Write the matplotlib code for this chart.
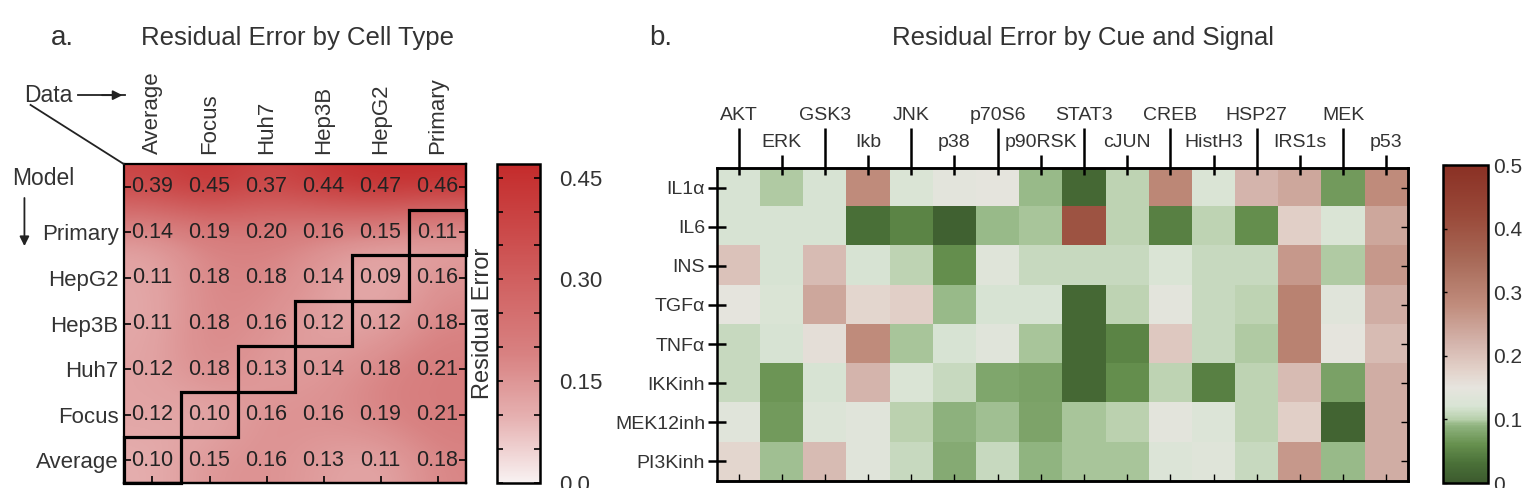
import numpy as np
import matplotlib
matplotlib.use('Agg')
import matplotlib.pyplot as plt
from matplotlib.colors import LinearSegmentedColormap
from matplotlib.patches import Rectangle

plt.rcParams['font.family'] = ['Liberation Sans', 'DejaVu Sans']

# panel a: residual error, model (rows) vs data (columns)
data_cols = ['Average', 'Focus', 'Huh7', 'Hep3B', 'HepG2', 'Primary']
model_rows = ['', 'Primary', 'HepG2', 'Hep3B', 'Huh7', 'Focus', 'Average']
err_cell = [
    [0.39, 0.45, 0.37, 0.44, 0.47, 0.46],
    [0.14, 0.19, 0.20, 0.16, 0.15, 0.11],
    [0.11, 0.18, 0.18, 0.14, 0.09, 0.16],
    [0.11, 0.18, 0.16, 0.12, 0.12, 0.18],
    [0.12, 0.18, 0.13, 0.14, 0.18, 0.21],
    [0.12, 0.10, 0.16, 0.16, 0.19, 0.21],
    [0.10, 0.15, 0.16, 0.13, 0.11, 0.18],
]

# panel b: residual error by cue (rows) and signal (columns)
signals = ['AKT', 'ERK', 'GSK3', 'Ikb', 'JNK', 'p38', 'p70S6', 'p90RSK',
           'STAT3', 'cJUN', 'CREB', 'HistH3', 'HSP27', 'IRS1s', 'MEK', 'p53']
cues = ['IL1α', 'IL6', 'INS', 'TGFα', 'TNFα', 'IKKinh', 'MEK12inh', 'PI3Kinh']
err_cue = [
    [0.12, 0.098, 0.12, 0.28, 0.125, 0.145, 0.15, 0.093, 0.02, 0.105, 0.29, 0.125, 0.22, 0.24, 0.07, 0.28],
    [0.12, 0.12, 0.12, 0.03, 0.05, 0.01, 0.092, 0.096, 0.40, 0.105, 0.045, 0.105, 0.06, 0.18, 0.125, 0.24],
    [0.20, 0.12, 0.21, 0.12, 0.105, 0.06, 0.135, 0.11, 0.11, 0.11, 0.125, 0.11, 0.11, 0.26, 0.098, 0.26],
    [0.15, 0.125, 0.24, 0.17, 0.18, 0.093, 0.12, 0.12, 0.02, 0.105, 0.145, 0.11, 0.105, 0.30, 0.14, 0.23],
    [0.11, 0.12, 0.16, 0.28, 0.096, 0.12, 0.14, 0.096, 0.02, 0.05, 0.19, 0.11, 0.098, 0.30, 0.15, 0.21],
    [0.11, 0.065, 0.12, 0.22, 0.125, 0.11, 0.08, 0.075, 0.02, 0.06, 0.105, 0.045, 0.105, 0.21, 0.075, 0.23],
    [0.14, 0.07, 0.13, 0.14, 0.102, 0.088, 0.095, 0.078, 0.097, 0.103, 0.145, 0.13, 0.104, 0.18, 0.015, 0.23],
    [0.17, 0.095, 0.21, 0.14, 0.11, 0.083, 0.11, 0.09, 0.097, 0.097, 0.13, 0.135, 0.11, 0.26, 0.092, 0.23],
]

reds = LinearSegmentedColormap.from_list(
    'reds', [(0, '#f8f2f2'), (0.2, '#e6b2b2'), (0.4, '#d88282'), (1, '#c42b2b')])
gr_nodes = [(0.00, '#3c5a2e'), (0.03, '#4a7038'), (0.06, '#66904e'), (0.09, '#90b480'),
            (0.10, '#b8d0ac'), (0.12, '#d8e4d4'), (0.15, '#e6e4de'), (0.18, '#e2d0c8'),
            (0.22, '#d4b4ac'), (0.28, '#c08c7c'), (0.35, '#a86a58'), (0.42, '#9a4a3a'),
            (0.50, '#8a3024')]
greenred = LinearSegmentedColormap.from_list(
    'greenred', [(v / 0.5, c) for v, c in gr_nodes])

fig = plt.figure(figsize=(15.27, 4.88), dpi=100)

# ---------------- panel a ----------------
ax1 = fig.add_axes([0.0812, 0.0102, 0.224, 0.6537])
im1 = ax1.imshow(np.array(err_cell), cmap=reds, vmin=0, vmax=0.47,
                 aspect='auto', interpolation='bicubic')
for i in range(len(model_rows)):
    for j in range(len(data_cols)):
        ax1.text(j, i, '%.2f' % err_cell[i][j], ha='center', va='center',
                 fontsize=15.5, color='#222222')
for i, name in enumerate(model_rows):
    if name in data_cols:
        j = data_cols.index(name)
        ax1.add_patch(Rectangle((j - 0.5, i - 0.5), 1, 1, fill=False,
                                lw=2.3, ec='black', zorder=5, clip_on=False))
ax1.set_xticks(range(len(data_cols)))
ax1.set_xticklabels(data_cols, fontsize=16, color='#333333')
ax1.xaxis.tick_top()
ax1.tick_params(axis='x', length=0, labelrotation=90, pad=7)
ax1.set_yticks(range(len(model_rows)))
ax1.set_yticklabels(model_rows, fontsize=16, color='#333333')
ax1.tick_params(axis='y', direction='in', length=5, width=1.2, pad=4)
sb1 = ax1.secondary_xaxis('bottom')
sb1.set_xticks(range(len(data_cols)))
sb1.set_xticklabels([])
sb1.tick_params(direction='in', length=5, width=1.2)
sr1 = ax1.secondary_yaxis('right')
sr1.set_yticks(range(len(model_rows)))
sr1.set_yticklabels([])
sr1.tick_params(direction='in', length=5, width=1.2)
for s in list(ax1.spines.values()) + [sb1.spines['bottom'], sr1.spines['right']]:
    s.set_linewidth(1.6)

cax1 = fig.add_axes([0.3255, 0.0102, 0.0282, 0.6537])
cb1 = fig.colorbar(im1, cax=cax1)
cb1.outline.set_linewidth(1.8)
tk = np.round(np.arange(0, 0.46, 0.05), 2)
cb1.set_ticks(tk)
cb1.set_ticklabels(['0.0' if t == 0 else ('%.2f' % t if abs(t / 0.15 - round(t / 0.15)) < 1e-6 else '') for t in tk])
cax1.tick_params(direction='in', left=True, right=True, length=4, width=1.2,
                 labelsize=16, pad=14, labelcolor='#333333')
cb1.set_label('Residual Error', fontsize=17, color='#333333', labelpad=2)
cax1.yaxis.set_label_position('left')

fig.text(0.033, 0.922, 'a.', fontsize=20, va='center', color='#333333')
fig.text(0.195, 0.922, 'Residual Error by Cell Type', fontsize=18.5,
         ha='center', va='center', color='#333333')
fig.text(0.016, 0.805, 'Data', fontsize=16.5, va='center', color='#333333')
fig.add_artist(plt.Line2D([0.051, 0.082], [0.805, 0.805], color='#222222', lw=1.3))
fig.add_artist(plt.Line2D([0.020, 0.081], [0.785, 0.664], color='#222222', lw=1.3))
fig.text(0.008, 0.635, 'Model', fontsize=16.5, va='center', color='#333333')
ax1.annotate('', xy=(0.016, 0.49), xytext=(0.016, 0.60), xycoords='figure fraction',
             arrowprops=dict(arrowstyle='-|>', color='#222222', lw=1.3,
                             mutation_scale=14))
ax1.annotate('', xy=(0.082, 0.805), xytext=(0.065, 0.805), xycoords='figure fraction',
             arrowprops=dict(arrowstyle='-|>', color='#222222', lw=1.3,
                             mutation_scale=14))

# ---------------- panel b ----------------
ax2 = fig.add_axes([0.4695, 0.0143, 0.4525, 0.6414])
im2 = ax2.imshow(np.array(err_cue), cmap=greenred, vmin=0, vmax=0.5,
                 aspect='auto', interpolation='nearest')
ax2.set_xticks(range(0, len(signals), 2))
ax2.set_xticklabels(signals[0::2], fontsize=14, color='#333333')
ax2.set_xticks(range(1, len(signals), 2), minor=True)
ax2.set_xticklabels(signals[1::2], minor=True, fontsize=14, color='#333333')
ax2.xaxis.tick_top()
ax2.tick_params(axis='x', which='major', direction='out', length=29, width=1.8, pad=3)
ax2.tick_params(axis='x', which='minor', direction='out', length=9.5, width=1.8, pad=3)
ax2.set_yticks(range(len(cues)))
ax2.set_yticklabels(cues, fontsize=14, color='#333333')
ax2.tick_params(axis='y', direction='inout', length=13, width=1.8, pad=2)
st2 = ax2.secondary_xaxis('top')
st2.set_xticks(range(len(signals)))
st2.set_xticklabels([])
st2.tick_params(direction='in', length=5, width=1.8)
sb2 = ax2.secondary_xaxis('bottom')
sb2.set_xticks(range(len(signals)))
sb2.set_xticklabels([])
sb2.tick_params(direction='in', length=5, width=1.0)
sr2 = ax2.secondary_yaxis('right')
sr2.set_yticks(range(len(cues)))
sr2.set_yticklabels([])
sr2.tick_params(direction='in', length=5, width=1.0)
for s in list(ax2.spines.values()) + [st2.spines['top'], sb2.spines['bottom'], sr2.spines['right']]:
    s.set_linewidth(1.8)

cax2 = fig.add_axes([0.945, 0.0102, 0.0295, 0.6516])
cb2 = fig.colorbar(im2, cax=cax2)
cb2.outline.set_linewidth(1.8)
cb2.set_ticks([0, 0.1, 0.2, 0.3, 0.4, 0.5])
cb2.set_ticklabels(['0', '0.1', '0.2', '0.3', '0.4', '0.5'])
cax2.tick_params(direction='in', left=True, right=False, length=3, width=1.0,
                 labelsize=15, pad=4, labelcolor='#333333')

fig.text(0.425, 0.922, 'b.', fontsize=20, va='center', color='#333333')
fig.text(0.709, 0.922, 'Residual Error by Cue and Signal', fontsize=18.5,
         ha='center', va='center', color='#333333')

fig.savefig('out.png', dpi=100)
